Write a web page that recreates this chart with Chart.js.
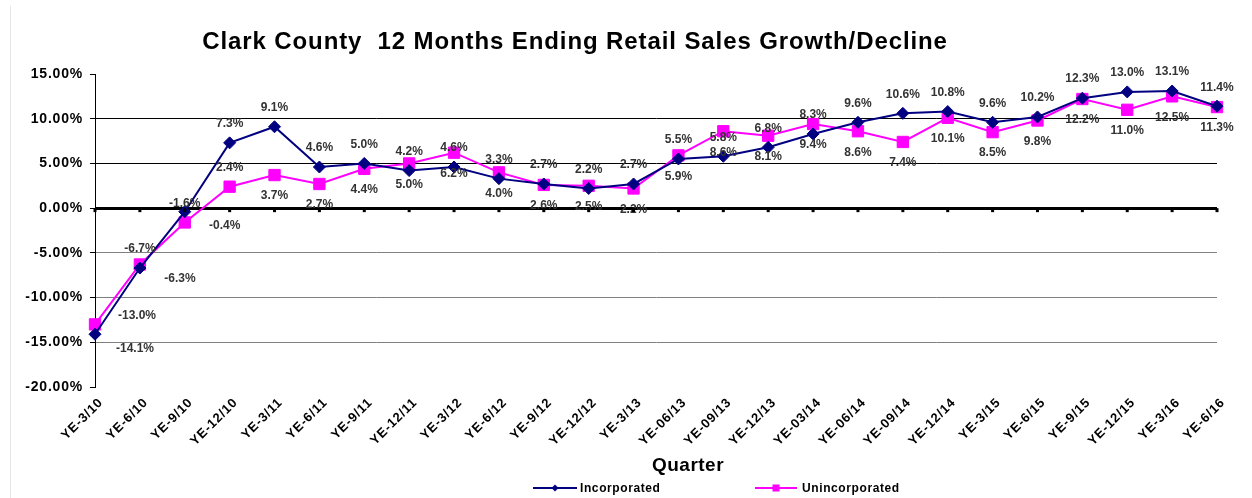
<!DOCTYPE html>
<html><head><meta charset="utf-8">
<script src="https://cdn.jsdelivr.net/npm/chart.js@4.4.1/dist/chart.umd.min.js"></script>
<style>
html,body{margin:0;padding:0;background:#fff;}
#wrap{position:relative;width:1252px;height:498px;overflow:hidden;}
#edge{position:absolute;left:10px;top:6px;width:1px;height:492px;background:#e6e6e6;}
canvas{position:absolute;left:0;top:0;}
</style></head><body>
<div id="wrap"><div id="edge"></div><canvas id="c" width="1252" height="498"></canvas></div>
<script>
const chartTitle = 'Clark County  12 Months Ending Retail Sales Growth/Decline';
const xAxisTitle = 'Quarter';
const categories = ['YE-3/10','YE-6/10','YE-9/10','YE-12/10','YE-3/11','YE-6/11','YE-9/11','YE-12/11',
  'YE-3/12','YE-6/12','YE-9/12','YE-12/12','YE-3/13','YE-06/13','YE-09/13','YE-12/13','YE-03/14',
  'YE-06/14','YE-09/14','YE-12/14','YE-3/15','YE-6/15','YE-9/15','YE-12/15','YE-3/16','YE-6/16'];
const incorporated = [-14.1,-6.7,-0.4,7.3,9.1,4.6,5.0,4.2,4.6,3.3,2.7,2.2,2.7,5.5,5.8,6.8,8.3,9.6,10.6,10.8,9.6,10.2,12.3,13.0,13.1,11.4];
const unincorporated = [-13.0,-6.3,-1.6,2.4,3.7,2.7,4.4,5.0,6.2,4.0,2.6,2.5,2.2,5.9,8.6,8.1,9.4,8.6,7.4,10.1,8.5,9.8,12.2,11.0,12.5,11.3];
const seriesNames = ['Incorporated','Unincorporated'];
const yTicks = [15,10,5,0,-5,-10,-15,-20];
// label placement: 'a' above, 'b' below, 'ar' above-right, 'br' below-right
const incLabelPlace = ['br','a','br','a','a','a','a','a','a','a','a','a','a','a','a','a','a','a','a','a','a','a','a','a','a','a'];
const unincLabelPlace = ['ar','br','a','a','b','b','b','b','b','b','b','b','b','b','b','b','b','b','b','b','b','b','b','b','b','b'];

const FONT = "'Liberation Sans', Arial, sans-serif";
const NARROW = "'Liberation Sans Narrow', 'Liberation Sans', Arial, sans-serif";
const NAVY = '#000080', MAGENTA = '#FF00FF';
const PLACE = {a: [0, -19], b: [0, 21], ar: [42, -9], br: [40, 14]};

const spacing = {
  id: 'spacing',
  beforeDraw(chart) { chart.ctx.letterSpacing = '0.8px'; },
  afterDatasetsDraw() {}
};

const overlay = {
  id: 'overlay',
  afterDraw(chart) {
    const ctx = chart.ctx;
    const ys = chart.scales.y, xs = chart.scales.x;
    ctx.save();
    ctx.letterSpacing = '0px';
    const zy = ys.getPixelForValue(0);
    ctx.fillStyle = '#000';
    categories.forEach((c, i) => {
      const x = xs.getPixelForValue(i);
      ctx.fillRect(x - 1.5, zy, 3, 4);
    });
    ctx.fillStyle = '#000';
    ctx.textAlign = 'center';
    ctx.textBaseline = 'middle';
    ctx.font = 'bold 24px ' + FONT;
    ctx.letterSpacing = '0.9px';
    ctx.fillText(chartTitle, 575, 42);
    ctx.letterSpacing = '0.5px';
    ctx.font = 'bold 19px ' + FONT;
    ctx.fillText(xAxisTitle, 688, 466);
    const ly = 488;
    const items = [
      {name: seriesNames[0], x0: 533, x1: 577, color: NAVY, style: 'diamond', tx: 580},
      {name: seriesNames[1], x0: 755, x1: 797, color: MAGENTA, style: 'square', tx: 802}
    ];
    items.forEach(it => {
      ctx.strokeStyle = it.color; ctx.lineWidth = 2;
      ctx.beginPath(); ctx.moveTo(it.x0, ly); ctx.lineTo(it.x1, ly); ctx.stroke();
      const cx = (it.x0 + it.x1) / 2;
      ctx.fillStyle = it.color;
      if (it.style === 'diamond') {
        ctx.beginPath(); ctx.moveTo(cx, ly - 3.5); ctx.lineTo(cx + 3.5, ly); ctx.lineTo(cx, ly + 3.5); ctx.lineTo(cx - 3.5, ly); ctx.closePath(); ctx.fill();
      } else {
        ctx.fillRect(cx - 3.5, ly - 3.5, 7, 7);
      }
      ctx.fillStyle = '#000';
      ctx.textAlign = 'left';
      ctx.font = 'bold 12px ' + NARROW;
      ctx.letterSpacing = '0.6px';
      ctx.fillText(it.name, it.tx, ly + 1);
    });
    ctx.restore();
  },
  afterDatasetsDraw(chart) {
    const ctx = chart.ctx;
    ctx.save();
    ctx.letterSpacing = '0px';
    ctx.font = 'bold 12px ' + FONT;
    ctx.fillStyle = '#333333';
    ctx.textAlign = 'center';
    ctx.textBaseline = 'middle';
    const places = [incLabelPlace, unincLabelPlace];
    chart.data.datasets.forEach((ds, di) => {
      const meta = chart.getDatasetMeta(di);
      meta.data.forEach((pt, i) => {
        const v = ds.data[i];
        const off = PLACE[places[di][i]];
        ctx.fillText(v.toFixed(1) + '%', pt.x + off[0], pt.y + off[1]);
      });
    });
    ctx.restore();
  }
};

new Chart(document.getElementById('c'), {
  type: 'line',
  data: {
    labels: categories,
    datasets: [
      {label: seriesNames[0], data: incorporated, borderColor: NAVY, backgroundColor: NAVY, borderWidth: 2,
       pointStyle: 'rectRot', pointRadius: 6, pointBorderWidth: 1, tension: 0},
      {label: seriesNames[1], data: unincorporated, borderColor: MAGENTA, backgroundColor: MAGENTA, borderWidth: 2,
       pointStyle: 'rect', pointRadius: 8, pointBorderWidth: 1, tension: 0}
    ]
  },
  options: {
    responsive: false,
    animation: false,
    devicePixelRatio: 1,
    layout: {padding: {top: 74, right: 35, bottom: 0, left: 0}},
    plugins: {legend: {display: false}, title: {display: false}, tooltip: {enabled: false}},
    scales: {
      x: {
        type: 'category', offset: false,
        grid: {display: false}, border: {display: false},
        ticks: {autoSkip: false, minRotation: 45, maxRotation: 45, padding: 0, labelOffset: 6,
                font: {family: FONT, size: 13, weight: 'bold'}, color: '#000'},
        afterFit(s) { s.height = 111; }
      },
      y: {
        min: -20, max: 15,
        afterBuildTicks(s) { s.ticks = yTicks.map(v => ({value: v})); },
        ticks: {callback: v => v.toFixed(2) + '%', padding: 7,
                font: {family: FONT, size: 14, weight: 'bold'}, color: '#000'},
        grid: {
          color: c => {
            const v = c.tick && c.tick.value;
            if (v === 15 || v === -20) return 'rgba(0,0,0,0)';
            if (v < 0) return '#808080';
            return '#000';
          },
          lineWidth: c => (c.tick && c.tick.value === 0) ? 3 : 1,
          tickColor: '#000', tickWidth: 1, tickLength: 5, drawTicks: true
        },
        border: {color: '#000', width: 1},
        afterFit(s) { s.width = 95; }
      }
    }
  },
  plugins: [spacing, overlay]
});
</script>
</body></html>
